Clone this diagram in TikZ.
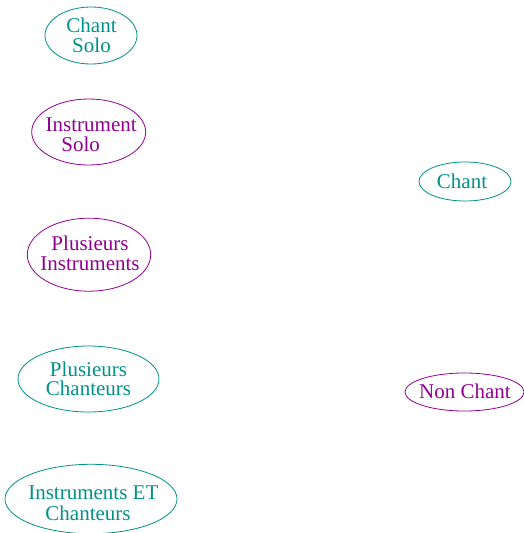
\documentclass[tikz,border=0pt]{standalone}
\usepackage{fontspec}
\setmainfont{Liberation Serif}
\usetikzlibrary{shapes.geometric}
\definecolor{chantcol}{RGB}{0,145,136}
\definecolor{instcol}{RGB}{145,0,145}
\tikzset{
  oval/.style={ellipse, draw, line width=0.8pt, inner sep=0pt},
  voice/.style={oval, draw=chantcol},
  instr/.style={oval, draw=instcol},
  lbl/.style={inner sep=0pt, align=center},
  voicetxt/.style={lbl, text=chantcol},
  instrtxt/.style={lbl, text=instcol},
}
\newcommand{\fs}[1]{\fontsize{21}{#1}\selectfont}
\begin{document}
\begin{tikzpicture}[x=1pt,y=-1pt]
\useasboundingbox (0,0) rectangle (524,533);
% outlines
\node[voice, minimum width=92pt,  minimum height=57pt] (chantsolo) at (91,35.5) {};
\node[instr, minimum width=114pt, minimum height=66pt] (instsolo)  at (88.7,132) {};
\node[instr, minimum width=123.4pt, minimum height=73pt] (plusinst) at (89,254.7) {};
\node[voice, minimum width=141pt, minimum height=66pt] (pluschant) at (88.5,379) {};
\node[voice, minimum width=172pt, minimum height=69.4pt] (instchant) at (91,499) {};
\node[voice, minimum width=92pt,  minimum height=39pt] (chant)     at (465,181.5) {};
\node[instr, minimum width=119pt, minimum height=38pt] (nonchant)  at (464.5,392) {};
% labels
\node[voicetxt, font=\fs{19.3}] (chantsolo-t) at (91.5,35.4) {Chant\\Solo};
\node[instrtxt, font=\fs{20}]   (instsolo-t)  at (91.2,134.3) {Instrument\\Solo\hspace*{21pt}};
\node[instrtxt, font=\fs{20}]   (plusinst-t)  at (90,253.8) {Plusieurs\\Instruments};
\node[voicetxt, font=\fs{19.3}] (pluschant-t) at (88.5,378.8) {Plusieurs\\Chanteurs};
\node[voicetxt, font=\fs{21}]   (instchant-t) at (88,503.5) {\hspace*{10.6pt}Instruments ET\\Chanteurs};
\node[voicetxt, font=\fs{21}]   (chant-t)     at (462,181.5) {Chant};
\node[instrtxt, font=\fs{21}]   (nonchant-t)  at (465,391.3) {Non Chant};
\end{tikzpicture}
\end{document}
